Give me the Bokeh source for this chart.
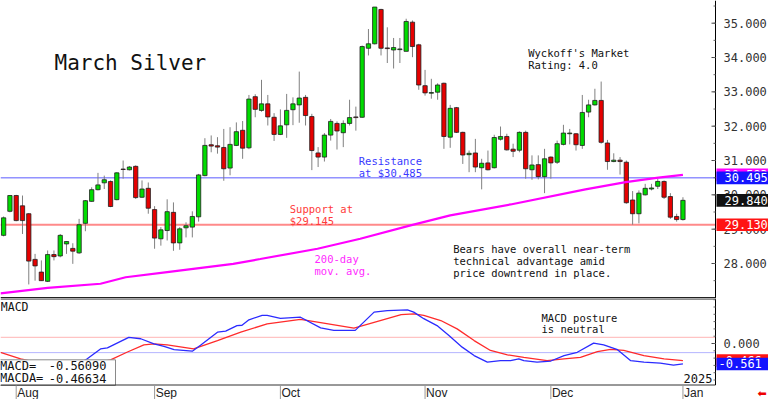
from bokeh.plotting import figure
from bokeh.models import Range1d, ColumnDataSource
from bokeh.layouts import column
from bokeh.embed import file_html
from bokeh.resources import INLINE
from bokeh.core.properties import value

# ---------------- data ----------------
opens = [28.82, 29.52, 29.98, 29.68, 29.45, 28.12, 27.75, 27.48, 28.26, 28.22,
         28.57, 28.44, 28.31, 29.17, 29.81, 30.15, 30.35, 30.39, 29.86, 30.75,
         30.73, 30.83, 29.93, 30.19, 29.57, 28.72, 28.96, 29.49, 28.60, 29.04,
         29.06, 29.36, 30.56, 31.46, 31.43, 31.38, 30.78, 31.44, 31.88, 31.37,
         32.86, 32.46, 32.65, 32.26, 31.76, 32.04, 32.48, 32.62, 32.84, 32.28,
         31.22, 31.10, 31.74, 32.08, 31.81, 32.08, 32.27, 32.26, 34.27, 34.40,
         35.40, 34.28, 34.22, 34.23, 34.18, 35.03, 34.37, 33.18, 32.96, 32.99,
         33.25, 31.68, 32.54, 31.82, 31.17, 31.22, 30.79, 30.93, 30.79, 31.62,
         31.70, 31.33, 31.30, 31.82, 30.73, 30.88, 30.53, 31.10, 30.95, 31.47,
         31.78, 31.78, 31.44, 32.41, 32.62, 32.75, 31.51, 30.97, 31.01, 30.95,
         29.85, 29.45, 30.00, 30.17, 30.25, 30.39, 29.95, 29.37, 29.28]
highs = [29.37, 29.99, 30.00, 29.98, 29.47, 28.28, 28.09, 28.38, 28.38, 28.86,
         28.65, 28.59, 29.30, 29.85, 30.22, 30.64, 30.56, 30.42, 30.66, 31.00,
         30.84, 30.86, 30.42, 30.36, 29.67, 29.06, 29.87, 29.78, 29.06, 29.20,
         29.52, 30.61, 31.65, 31.73, 31.68, 31.92, 31.97, 32.11, 32.15, 32.91,
         32.93, 33.35, 32.91, 32.38, 32.49, 32.94, 32.84, 33.59, 32.91, 32.36,
         31.39, 31.80, 32.21, 32.14, 32.17, 32.77, 32.57, 34.35, 34.83, 35.47,
         35.42, 34.88, 34.57, 34.57, 35.13, 35.08, 34.40, 33.64, 33.38, 33.25,
         33.27, 32.62, 32.56, 31.84, 31.29, 31.63, 31.05, 31.29, 31.75, 31.99,
         31.78, 31.49, 31.85, 31.87, 31.15, 31.15, 31.34, 31.12, 31.58, 32.04,
         31.92, 31.80, 32.91, 32.77, 33.09, 33.30, 31.60, 31.21, 31.10, 31.00,
         30.11, 30.13, 30.32, 30.32, 30.46, 30.42, 30.05, 29.45, 29.93]
lows = [28.79, 29.49, 29.23, 28.86, 27.39, 27.50, 27.49, 27.46, 28.09, 28.18,
        28.28, 27.99, 28.28, 28.94, 29.80, 30.13, 30.17, 29.64, 29.84, 30.47,
        30.71, 29.88, 29.91, 29.45, 28.43, 28.52, 28.67, 28.37, 28.40, 28.76,
        28.76, 29.22, 30.54, 31.24, 31.20, 30.41, 30.57, 31.42, 31.05, 31.33,
        32.26, 32.42, 32.02, 31.57, 31.74, 31.66, 32.03, 32.10, 32.02, 30.72,
        30.81, 30.97, 31.58, 31.32, 31.39, 32.02, 31.87, 32.24, 34.06, 34.38,
        34.06, 33.84, 33.68, 33.84, 34.18, 34.01, 33.06, 32.89, 32.80, 32.77,
        31.34, 31.37, 31.80, 30.90, 30.66, 30.66, 30.16, 30.71, 30.77, 31.58,
        31.29, 31.10, 31.24, 30.47, 30.44, 30.45, 30.05, 30.47, 30.90, 31.44,
        31.47, 31.29, 31.34, 32.26, 32.60, 31.49, 30.73, 30.95, 30.59, 29.74,
        29.13, 29.17, 29.98, 30.13, 30.17, 29.88, 29.30, 29.22, 29.25]
closes = [29.33, 29.98, 29.25, 29.25, 28.07, 27.93, 27.50, 28.26, 28.20, 28.82,
          28.64, 28.36, 29.13, 29.83, 30.15, 30.29, 30.44, 29.66, 30.64, 30.74,
          30.81, 29.92, 30.17, 29.61, 28.74, 28.98, 29.51, 28.60, 29.01, 29.10,
          29.37, 30.58, 31.44, 31.42, 31.39, 30.76, 31.47, 31.84, 31.36, 32.79,
          32.49, 32.65, 32.27, 31.76, 32.01, 32.46, 32.65, 32.82, 32.31, 31.29,
          31.10, 31.74, 32.14, 31.86, 32.08, 32.25, 32.25, 34.32, 34.40, 35.47,
          34.27, 34.26, 34.29, 34.25, 35.05, 34.32, 33.20, 32.97, 32.98, 33.20,
          31.70, 32.52, 31.82, 31.16, 31.21, 30.81, 30.92, 30.73, 31.67, 31.70,
          31.31, 31.27, 31.82, 30.76, 30.87, 30.53, 31.05, 30.93, 31.49, 31.80,
          31.80, 31.46, 32.40, 32.62, 32.75, 31.53, 30.97, 31.01, 30.97, 29.77,
          29.45, 30.05, 30.19, 30.20, 30.39, 29.93, 29.35, 29.28, 29.84]

month_names = ["Aug", "Sep", "Oct", "Nov", "Dec", "Jan"]
month_pos = [2, 24, 44, 67, 87, 108]

price_ticks = [28, 29, 30, 31, 32, 33, 34, 35]
macd_ticks = [0.0]

ma_x = [-0.5, 7, 15.4, 19.4, 26, 36.5, 40.8, 49.9, 56.7, 64.7, 71, 80.6, 92.5, 98.9, 104.1, 108]
ma_val = [27.13, 27.29, 27.41, 27.60, 27.75, 27.99, 28.13, 28.43, 28.72, 29.11, 29.40, 29.72,
          30.16, 30.37, 30.50, 30.58]

macd_x = [-0.5, 5.9, 10.6, 13.3, 15.4, 16.5, 19.9, 21.8, 23.9, 25.5, 27.1, 30.0, 31.3, 34.0,
          35.3, 37.1, 37.9, 39.0, 41.1, 41.9, 44.0, 47.2, 50.4, 52.5, 55.9, 58.9, 61.0, 64.2,
          65.2, 66.8, 68.9, 70.8, 72.9, 74.8, 76.9, 79.0, 80.6, 81.9, 82.7, 84.8, 87.0, 89.1,
          91.2, 93.8, 95.4, 97.6, 99.7, 101.8, 104.4, 106.5, 108]
macd_val = [-0.58, -0.88, -0.68, -0.42, -0.15, -0.12, 0.17, 0.13, -0.01, -0.08, -0.17, -0.21,
            -0.05, 0.31, 0.34, 0.49, 0.50, 0.65, 0.77, 0.77, 0.69, 0.72, 0.43, 0.36, 0.36, 0.86,
            0.90, 0.92, 0.86, 0.68, 0.49, 0.22, -0.10, -0.33, -0.51, -0.47, -0.47, -0.42, -0.47,
            -0.51, -0.48, -0.33, -0.24, 0.01, -0.04, -0.17, -0.47, -0.51, -0.54, -0.59, -0.5609]
sig_x = [-0.5, 2.7, 7.5, 12.2, 17.0, 19.6, 22.3, 23.9, 26.0, 30.2, 34.0, 37.7, 41.9, 47.2, 50.4,
         55.7, 58.9, 63.2, 65.2, 66.8, 69.5, 72.1, 74.8, 77.4, 80.1, 82.7, 86.4, 89.1, 91.7,
         94.4, 96.5, 98.6, 101.8, 105.0, 108]
sig_val = [-0.24, -0.42, -0.60, -0.63, -0.45, -0.24, -0.04, -0.01, -0.04, -0.15, 0.08, 0.31,
           0.54, 0.66, 0.57, 0.42, 0.58, 0.79, 0.81, 0.77, 0.63, 0.40, 0.08, -0.19, -0.31,
           -0.38, -0.47, -0.42, -0.38, -0.22, -0.16, -0.19, -0.33, -0.42, -0.46634]

support = 29.13
resistance = 30.495
ma_last = 30.583
last_close = 29.84
macd_last = -0.56090
macda_last = -0.46634
macd_hi_ref = 0.17
macd_lo_ref = -0.25

# ---------------- layout helpers (pixel -> data, for decorations only) ----------------
MONO = "DejaVu Sans Mono"
GREEN = "#00dc00"
RED = "#e60000"
PX_PER_BAR = 6.29
PX_PER_PRICE = 34.33
PX_PER_MACD = 36.5


def X(px):
    return (px - 15.7) / PX_PER_BAR + 2


def YP(py):
    return 35.661 - py / PX_PER_PRICE


def YM(py):
    return 1.233 - (py - 298) / PX_PER_MACD


XR = Range1d(X(0), X(768))
AX = X(715)  # position of the right-hand scale line

n = len(opens)
src = ColumnDataSource(dict(
    x=list(range(n)), o=opens, h=highs, l=lows, c=closes,
    top=[max(a, b) for a, b in zip(opens, closes)],
    bot=[min(a, b) for a, b in zip(opens, closes)],
    col=[GREEN if c >= o else RED for o, c in zip(opens, closes)],
))


def txt(fig, x, y, s, color, size, align="left", baseline="top", lh=1.03, font=MONO):
    fig.text(x=[x], y=[y], text=[s], text_color=color, text_font=value(font),
             text_font_size=size, text_align=align, text_baseline=baseline,
             text_line_height=lh)


def tag(fig, v, half, color, text_px):
    fig.quad(left=[X(716)], right=[X(770)], top=[v + half], bottom=[v - half],
             fill_color=color, line_color=None)
    fig.text(x=[X(text_px)], y=[v], text=[f"{v:.3f}"], text_font=value(MONO),
             text_font_size="12px", text_color="white", text_align="left",
             text_baseline="middle")


def make_fig(h, yr):
    f = figure(width=768, height=h, x_range=XR, y_range=yr, output_backend="svg",
               toolbar_location=None, x_axis_location=None, y_axis_location=None,
               min_border=0)
    f.outline_line_color = None
    f.grid.visible = False
    f.background_fill_color = "white"
    f.border_fill_color = "white"
    return f


# ---------------- price panel ----------------
p = make_fig(298, Range1d(YP(298), YP(0)))

p.segment(x0=[X(0)], y0=[resistance], x1=[AX], y1=[resistance], line_color="#5a5aff", line_width=1)
p.segment(x0=[X(0)], y0=[support], x1=[AX], y1=[support], line_color="#ff8a8a", line_width=2)

p.segment(x0="x", y0="l", x1="x", y1="h", source=src, line_color="#808080", line_width=1)
p.vbar(x="x", width=0.68, top="top", bottom="bot", fill_color="col",
       line_color="#1e1e1e", line_width=0.8, source=src)
p.line(ma_x, ma_val, line_color="#ff00ff", line_width=2.2)

# right-hand price scale
p.segment(x0=[AX], y0=[YP(298)], x1=[AX], y1=[YP(0)], line_color="black", line_width=1)
p.segment(x0=[X(711)] * len(price_ticks), y0=price_ticks, x1=[AX] * len(price_ticks),
          y1=price_ticks, line_color="#444444", line_width=1)
minor_p = [27.5 + 0.5 * k for k in range(17)]
p.segment(x0=[X(713)] * len(minor_p), y0=minor_p, x1=[AX] * len(minor_p), y1=minor_p,
          line_color="#666666", line_width=1)
p.text(x=[X(723)] * len(price_ticks), y=price_ticks, text=[f"{t:.3f}" for t in price_ticks],
       text_font=value(MONO), text_font_size="12px", text_color="#333333",
       text_align="left", text_baseline="middle")
# bottom border of price panel
p.segment(x0=[X(0)], y0=[YP(297.3)], x1=[AX], y1=[YP(297.3)], line_color="#222222", line_width=1.6)

# value tags on the price scale (drawn in stacking order)
hp = 6.3 / PX_PER_PRICE
tag(p, ma_last, hp, "#ff00ff", 724)
tag(p, resistance, hp, "#1414ff", 724)
tag(p, last_close, hp, "#111111", 724)
tag(p, support, hp, "#ff1414", 724)

txt(p, X(54), YP(62), "March Silver", "#111111", "21px", baseline="middle")
txt(p, X(527.7), YP(46), "Wyckoff's Market\nRating: 4.0", "#111111", "10.5px")
txt(p, X(358.3), YP(154), "Resistance\nat $30.485", "#3a3aff", "10.5px")
txt(p, X(289.3), YP(202), "Support at\n$29.145", "#ff3a3a", "10.5px")
txt(p, X(314), YP(252.5), "200-day\nmov. avg.", "#ff2aff", "10.5px", lh=1.0)
txt(p, X(452.7), YP(242), "Bears have overall near-term\ntechnical advantage amid\nprice downtrend in place.",
    "#111111", "10.5px")

# ---------------- MACD panel (with date strip) ----------------
q = make_fig(101, Range1d(YM(399), YM(298)))

q.segment(x0=[X(0), X(0)], y0=[macd_hi_ref, macd_lo_ref], x1=[AX, AX], y1=[macd_hi_ref, macd_lo_ref],
          line_color=["#ffb4b4", "#b4b4ff"], line_width=1)
q.line(sig_x, sig_val, line_color="#ff2b2b", line_width=1.3)
q.line(macd_x, macd_val, line_color="#2b2bff", line_width=1.3)

q.quad(left=[X(-2)], right=[X(115)], top=[YM(359.3)], bottom=[YM(385)], fill_color="white",
       line_color="#8a8a8a", line_width=1)

# frame lines
q.segment(x0=[X(0)], y0=[YM(298.4)], x1=[AX], y1=[YM(298.4)], line_color="#222222", line_width=1.4)
q.segment(x0=[X(0)], y0=[YM(384.5)], x1=[AX], y1=[YM(384.5)], line_color="#333333", line_width=1)
q.segment(x0=[AX], y0=[YM(298)], x1=[AX], y1=[YM(384.5)], line_color="black", line_width=1)

# right-hand MACD scale
q.segment(x0=[X(711)], y0=macd_ticks, x1=[AX], y1=macd_ticks, line_color="#444444", line_width=1)
minor_m = [-1.0 + 0.2 * k for k in range(12)]
q.segment(x0=[X(713)] * len(minor_m), y0=minor_m, x1=[AX] * len(minor_m), y1=minor_m,
          line_color="#666666", line_width=1)
q.text(x=[X(723)], y=macd_ticks, text=[f"{t:.3f}" for t in macd_ticks], text_font=value(MONO),
       text_font_size="12px", text_color="#333333", text_align="left", text_baseline="middle")

hm = 6.3 / PX_PER_MACD
tag(q, macda_last, hm, "#ff1414", 718)
tag(q, macd_last, hm, "#1414ff", 718)

# date strip: month separators and names
q.segment(x0=month_pos, y0=[YM(385)] * len(month_pos), x1=month_pos, y1=[YM(399)] * len(month_pos),
          line_color="#9a9a9a", line_width=1)
q.text(x=[m + 0.17 for m in month_pos], y=[YM(392)] * len(month_pos), text=month_names,
       text_font=value("Liberation Sans"), text_font_size="12px", text_color="#222222",
       text_align="left", text_baseline="middle")
txt(q, X(757), YM(393), "\u2b05", "#ee0000", "11px", baseline="middle", font="DejaVu Sans")

txt(q, X(0.3), YM(306), "MACD", "#111111", "11.5px", baseline="middle")
txt(q, X(541), YM(311), "MACD posture\nis neutral", "#111111", "10.5px", lh=0.96)
txt(q, X(712), YM(378), "2025", "#111111", "12px", align="right", baseline="middle")
txt(q, X(-0.5), YM(365), "MACD=", "#111111", "12px", baseline="middle")
txt(q, X(-0.5), YM(377.7), "MACDA=", "#111111", "12px", baseline="middle")
txt(q, X(106), YM(365), f"{macd_last:.5f}", "#111111", "12px", align="right", baseline="middle")
txt(q, X(106), YM(377.7), f"{macda_last:.5f}", "#111111", "12px", align="right", baseline="middle")

layout = column(p, q, spacing=0)
open("out.html", "w").write(file_html(layout, INLINE))
